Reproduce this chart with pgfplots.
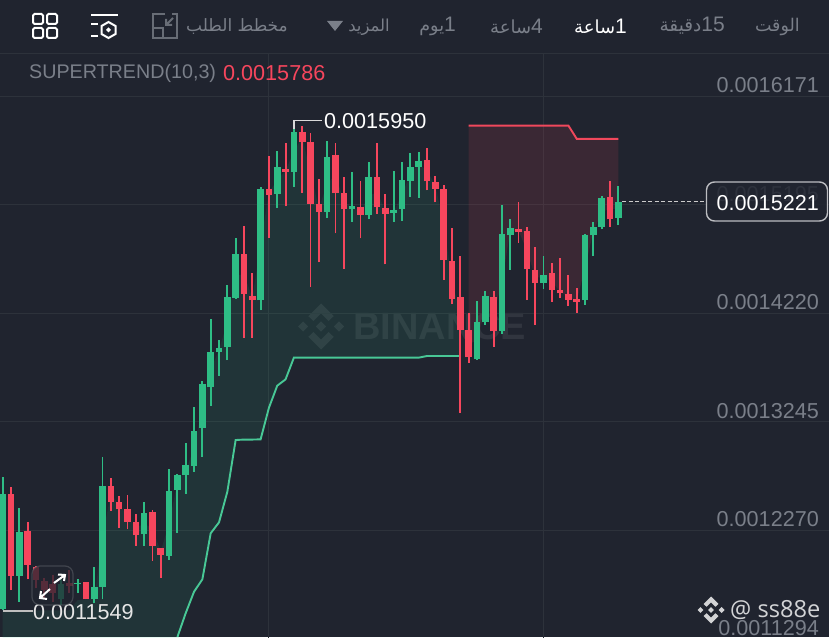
\documentclass[border=0pt]{standalone}
\usepackage{fontspec}
\usepackage{pgfplots}
\usepackage{pgfplotstable}
\pgfplotsset{compat=1.18}
\setmainfont{Liberation Sans}
\newfontfamily\arabicfont[Script=Arabic]{DejaVu Sans}
\newfontfamily\wmfont{Open Sans}
\TeXXeTstate=1

\definecolor{bgc}{RGB}{32,36,47}
\definecolor{gridc}{RGB}{45,50,59}
\definecolor{upc}{RGB}{46,189,133}
\definecolor{downc}{RGB}{246,70,93}
\definecolor{labelc}{RGB}{122,127,137}
\definecolor{stgreen}{RGB}{72,200,150}
\definecolor{stred}{RGB}{240,72,92}
\definecolor{wmc}{RGB}{49,53,63}
\definecolor{iconc}{RGB}{104,109,118}

% i open high low close
\pgfplotstableread{
i open high low close
0 0.0011560 0.0012751 0.0011549 0.0012595
1 0.0012595 0.0012655 0.0011732 0.0011858
2 0.0011858 0.0012472 0.0011627 0.0012256
3 0.0012262 0.0012346 0.0011828 0.0011957
4 0.0011942 0.0011948 0.0011747 0.0011822
5 0.0011816 0.0011837 0.0011657 0.0011732
6 0.0011786 0.0011867 0.0011627 0.0011702
7 0.0011648 0.0011852 0.0011597 0.0011786
8 0.0011792 0.0011912 0.0011702 0.0011768
9 0.0011786 0.0011828 0.0011708 0.0011798
10 0.0011807 0.0011807 0.0011648 0.0011648
11 0.0011654 0.0011942 0.0011612 0.0011759
12 0.0011759 0.0012924 0.0011648 0.0012667
13 0.0012670 0.0012742 0.0012445 0.0012526
14 0.0012526 0.0012577 0.0012286 0.0012457
15 0.0012457 0.0012586 0.0012277 0.0012346
16 0.0012346 0.0012415 0.0012128 0.0012226
17 0.0012235 0.0012520 0.0012128 0.0012427
18 0.0012433 0.0012451 0.0011996 0.0012128
19 0.0012110 0.0012110 0.0011843 0.0012050
20 0.0012038 0.0012822 0.0012002 0.0012625
21 0.0012631 0.0012772 0.0012247 0.0012763
22 0.0012766 0.0013050 0.0012595 0.0012852
23 0.0012849 0.0013379 0.0012795 0.0013161
24 0.0013191 0.0013613 0.0012930 0.0013580
25 0.0013553 0.0014167 0.0013385 0.0013871
26 0.0013868 0.0013978 0.0013658 0.0013910
27 0.0013913 0.0014470 0.0013799 0.0014365
28 0.0014359 0.0014892 0.0014350 0.0014748
29 0.0014751 0.0014999 0.0014000 0.0014392
30 0.0014377 0.0014577 0.0014000 0.0014335
31 0.0014335 0.0015350 0.0014248 0.0015335
32 0.0015332 0.0015635 0.0014898 0.0015284
33 0.0015293 0.0015680 0.0015167 0.0015530
34 0.0015515 0.0015752 0.0015179 0.0015491
35 0.0015491 0.0015950 0.0015356 0.0015850
36 0.0015850 0.0015901 0.0015302 0.0015757
37 0.0015755 0.0015835 0.0014458 0.0015203
38 0.0015197 0.0015422 0.0014676 0.0015132
39 0.0015129 0.0015769 0.0015078 0.0015626
40 0.0015638 0.0015746 0.0014937 0.0015299
41 0.0015296 0.0015440 0.0014619 0.0015153
42 0.0015153 0.0015488 0.0015042 0.0015182
43 0.0015170 0.0015404 0.0014892 0.0015102
44 0.0015102 0.0015578 0.0015063 0.0015443
45 0.0015446 0.0015752 0.0015114 0.0015170
46 0.0015161 0.0015287 0.0014658 0.0015114
47 0.0015117 0.0015494 0.0015042 0.0015144
48 0.0015155 0.0015578 0.0015051 0.0015416
49 0.0015410 0.0015662 0.0015266 0.0015536
50 0.0015530 0.0015671 0.0015257 0.0015587
51 0.0015599 0.0015704 0.0015323 0.0015404
52 0.0015398 0.0015452 0.0015215 0.0015338
53 0.0015338 0.0015374 0.0014518 0.0014697
54 0.0014688 0.0014982 0.0014302 0.0014347
55 0.0014362 0.0014733 0.0013326 0.0014068
56 0.0014068 0.0014218 0.0013775 0.0013823
57 0.0013805 0.0014332 0.0013800 0.0014140
58 0.0014137 0.0014416 0.0014116 0.0014374
59 0.0014368 0.0014419 0.0013919 0.0014056
60 0.0014056 0.0015192 0.0014032 0.0014934
61 0.0014925 0.0015066 0.0014611 0.0014982
62 0.0014976 0.0015215 0.0014853 0.0014946
63 0.0014955 0.0014997 0.0014338 0.0014613
64 0.0014607 0.0014811 0.0014113 0.0014494
65 0.0014494 0.0014736 0.0014434 0.0014566
66 0.0014578 0.0014673 0.0014323 0.0014431
67 0.0014428 0.0014712 0.0014353 0.0014398
68 0.0014392 0.0014563 0.0014287 0.0014341
69 0.0014344 0.0014446 0.0014224 0.0014320
70 0.0014335 0.0014931 0.0014296 0.0014925
71 0.0014922 0.0015039 0.0014733 0.0014991
72 0.0014997 0.0015272 0.0014973 0.0015257
73 0.0015263 0.0015404 0.0014994 0.0015063
74 0.0015078 0.0015362 0.0015015 0.0015221
}\candles

% supertrend, rising part
\pgfplotstableread{
i st
21 0.0011310
22 0.0011525
23 0.0011717
24 0.0011828
25 0.0012242
26 0.0012340
27 0.0012615
28 0.0013080
29 0.0013084
30 0.0013084
31 0.0013086
32 0.0013370
33 0.0013568
34 0.0013625
35 0.0013820
50 0.0013820
51 0.0013835
55 0.0013835
}\stup

% supertrend, falling part
\pgfplotstableread{
i st
56 0.0015905
68 0.0015905
69 0.0015786
74 0.0015786
}\stdown

% shaded band under the rising part: along the candles, back along the line
\pgfplotstableread{
i y
0 0.0011549
8 0.0011549
9 0.0011640
10 0.0011648
11 0.0011654
12 0.0012213
13 0.0012598
14 0.0012492
15 0.0012402
16 0.0012286
17 0.0012331
18 0.0012280
19 0.0012080
20 0.0012332
21 0.0012697
22 0.0012809
23 0.0013005
24 0.0013385
25 0.0013712
26 0.0013889
27 0.0014139
28 0.0014553
29 0.0014571
30 0.0014356
31 0.0014835
32 0.0015308
33 0.0015411
34 0.0015503
35 0.0015670
36 0.0015803
37 0.0015479
38 0.0015164
39 0.0015377
40 0.0015468
41 0.0015224
42 0.0015167
43 0.0015136
44 0.0015272
45 0.0015308
46 0.0015137
47 0.0015130
48 0.0015285
49 0.0015473
50 0.0015558
51 0.0015501
52 0.0015368
53 0.0015017
54 0.0014517
55 0.0014215
55 0.0013835
51 0.0013835
50 0.0013820
35 0.0013820
34 0.0013625
33 0.0013568
32 0.0013370
31 0.0013086
28 0.0013080
27 0.0012615
26 0.0012340
25 0.0012242
24 0.0011828
23 0.0011717
22 0.0011525
21 0.0011310
20 0.0011100
0 0.0011100
}\bandup

% shaded band over the falling part
\pgfplotstableread{
i y
56 0.0013945
57 0.0013972
58 0.0014255
59 0.0014212
60 0.0014495
61 0.0014953
62 0.0014961
63 0.0014784
64 0.0014550
65 0.0014530
66 0.0014504
67 0.0014413
68 0.0014366
69 0.0014332
70 0.0014630
71 0.0014956
72 0.0015127
73 0.0015163
74 0.0015150
74 0.0015786
69 0.0015786
68 0.0015905
56 0.0015905
}\banddown

\newcommand\binlogo[4]{% x, y, half size, colour
  \fill[#4,shift={(#1,#2)},x=#3pt,y=#3pt]
    (0,1)--(.55,.45)--(.33,.24)--(0,.57)--(-.33,.24)--(-.55,.45)--cycle
    (0,-1)--(.55,-.45)--(.33,-.24)--(0,-.57)--(-.33,-.24)--(-.55,-.45)--cycle
    (-1,0)--(-.78,.22)--(-.56,0)--(-.78,-.22)--cycle
    (1,0)--(.78,.22)--(.56,0)--(.78,-.22)--cycle
    (0,.22)--(.22,0)--(0,-.22)--(-.22,0)--cycle;}
\newcommand\hdr[4]{\node[anchor=east,inner sep=0,text=#1,font=\fontsize{21}{21}\selectfont] at (#2,#3) {#4};}
\newcommand\ar[2]{{\arabicfont\fontsize{#1}{#1}\selectfont #2}}

\begin{document}
\begin{tikzpicture}
\fill[bgc] (0,0) rectangle (829pt,637pt);

% watermark sits under the chart
\begin{scope}[shift={(0,637pt)},x=1pt,y=-1pt]
  \node[anchor=west,inner sep=0,text=wmc,font=\fontsize{38}{38}\selectfont\bfseries] at (353,326.5) {BINANCE};
  \binlogo{321}{326.5}{23}{wmc}
\end{scope}

\begin{axis}[
    at={(0,-8pt)},
    anchor=south west,
    scale only axis,
    width=829pt,
    height=645pt,
    xmin=-0.325,
    xmax=99.32,
    ymin=0.0011238,
    ymax=0.0017034,
    axis line style={draw=none},
    major tick length=0pt,
    xtick={32,65},
    xticklabel=\empty,
    ytick={0.0011294,0.0012270,0.0013245,0.0014220,0.0015195,0.0016171},
    yticklabels={0.0011294,0.0012270,0.0013245,0.0014220,0.0015195,0.0016171},
    scaled y ticks=false,
    yticklabel pos=right,
    yticklabel style={anchor=east,inner sep=0pt,xshift=-10pt,yshift=11pt,text=labelc,font=\fontsize{21.6}{21.6}\selectfont},
    grid=major,
    grid style={color=gridc,line width=1pt},
  ]

  % shaded bands
  \addplot[fill=upc,fill opacity=0.11,draw=none,forget plot] table[x=i,y=y] {\bandup} -- cycle;
  \addplot[fill=downc,fill opacity=0.12,draw=none,forget plot] table[x=i,y=y] {\banddown} -- cycle;

  % supertrend lines
  \addplot[stgreen,line width=1.9pt,forget plot] table[x=i,y=st] {\stup};
  \addplot[stred,line width=1.9pt,forget plot] table[x=i,y=st] {\stdown};

  % wicks and bodies; a bar of the other colour gets zero length
  \addplot[draw=none,no markers,forget plot,
    error bars/.cd,y dir=plus,y explicit,error mark=none,
    error bar style={draw=upc,line width=1.9pt}]
    table[x=i,y=low,y error plus expr={\thisrow{close}>\thisrow{open} ? \thisrow{high}-\thisrow{low} : 0}] {\candles};
  \addplot[draw=none,no markers,forget plot,
    error bars/.cd,y dir=plus,y explicit,error mark=none,
    error bar style={draw=downc,line width=1.9pt}]
    table[x=i,y=low,y error plus expr={\thisrow{close}>\thisrow{open} ? 0 : \thisrow{high}-\thisrow{low}}] {\candles};
  \addplot[draw=none,no markers,forget plot,
    error bars/.cd,y dir=plus,y explicit,error mark=none,
    error bar style={draw=upc,line width=6.6pt}]
    table[x=i,y=open,y error plus expr={\thisrow{close}>\thisrow{open} ? \thisrow{close}-\thisrow{open} : 0}] {\candles};
  \addplot[draw=none,no markers,forget plot,
    error bars/.cd,y dir=plus,y explicit,error mark=none,
    error bar style={draw=downc,line width=6.6pt}]
    table[x=i,y=close,y error plus expr={\thisrow{close}>\thisrow{open} ? 0 : \thisrow{open}-\thisrow{close}}] {\candles};
\end{axis}

% everything below is the app's chrome, in reference pixels
\begin{scope}[shift={(0,637pt)},x=1pt,y=-1pt]
  \fill[bgc] (0,0) rectangle (829,54);
  \draw[gridc,line width=1pt] (0,54)--(829,54);

  % toolbar
  \foreach \a/\b in {33/14,47/14,33/28,47/28}
    \draw[white,line width=2pt,rounded corners=1.5pt] (\a,\b) rectangle ++(10,10);
  \draw[white,line width=2pt] (91,15)--(118,15) (91,24)--(98,24) (91,36)--(98,36);
  \draw[white,line width=2pt] (108.5,22)--(115.5,26)--(115.5,34)--(108.5,38)--(101.5,34)--(101.5,26)--cycle;
  \fill[white] (108.5,27.5)--(111,30)--(108.5,32.5)--(106,30)--cycle;
  \draw[iconc,line width=2pt] (165,14)--(153,14)--(153,38)--(177,38)--(177,14)--(172,14);
  \draw[iconc,line width=2pt] (153,28) rectangle (163,38);
  \draw[iconc,line width=2pt] (173,18)--(166,25) (166,19)--(166,25)--(172,25);

  \node[anchor=east,inner sep=0,text=labelc] at (288,27) {\ar{17}{\beginR مخطط الطلب\endR}};
  \node[anchor=east,inner sep=0,text=labelc] at (390,27) {\ar{16.5}{\beginR المزيد\endR}};
  \fill[labelc] (327,21)--(343,21)--(335,31)--cycle;
  \hdr{labelc}{456}{26}{\ar{17.5}{\beginR يوم\endR}1}
  \hdr{labelc}{543}{26}{\ar{18}{\beginR ساعة\endR}4}
  \hdr{white}{627}{26}{\ar{18}{\beginR ساعة\endR}1}
  \hdr{labelc}{725}{26}{\ar{18.5}{\beginR دقيقة\endR}15}
  \node[anchor=east,inner sep=0,text=labelc] at (800,27) {\ar{17.5}{\beginR الوقت\endR}};

  % indicator line
  \node[anchor=west,inner sep=0,text=labelc,font=\fontsize{19.7}{19.7}\selectfont] at (29,73) {SUPERTREND(10,3)};
  \node[anchor=west,inner sep=0,text=downc,font=\fontsize{21.6}{21.6}\selectfont] at (223,73) {0.0015786};

  % high and low labels
  \draw[white!85!black,line width=1.3pt] (294,129)--(294,120.5)--(322,120.5);
  \node[anchor=west,inner sep=0,text=white,font=\fontsize{21.6}{21.6}\selectfont] at (324,121) {0.0015950};
  \draw[white!75!black,line width=1.3pt] (3,611)--(33,611);
  \node[anchor=west,inner sep=0,text=white!90!black,font=\fontsize{21.6}{21.6}\selectfont] at (33,612) {0.0011549};

  % expand button
  \fill[bgc,fill opacity=0.75,rounded corners=8pt] (32,566) rectangle (73,605);
  \draw[white!30!bgc,draw opacity=0.5,line width=1.2pt,rounded corners=8pt] (32,566) rectangle (73,605);
  \draw[white,line width=2pt] (54,583)--(65,575) (58,574.5)--(65,575)--(64,581);
  \draw[white,line width=2pt] (50,589)--(40,598) (47,599)--(40,598)--(41,591);

  % last price
  \draw[white!80!black,line width=1.2pt,dash pattern=on 4pt off 2.5pt] (622,201.7)--(706,201.7);
  \draw[white!70!bgc,fill=bgc,fill opacity=0.85,line width=1.4pt,rounded corners=8pt] (706.5,182) rectangle (827.5,221);
  \node[anchor=east,inner sep=0,text=white,font=\fontsize{21.6}{21.6}\selectfont] at (819,203) {0.0015221};

  % corner mark
  \binlogo{711}{610}{13.5}{white!80!bgc}
  \node[anchor=west,inner sep=0,text=white!80!bgc,font=\wmfont\fontsize{23.6}{23.6}\selectfont] at (730,610) {@ ss88e};
\end{scope}
\pgfresetboundingbox
\useasboundingbox (0,0) rectangle (829pt,637pt);
\end{tikzpicture}
\end{document}
